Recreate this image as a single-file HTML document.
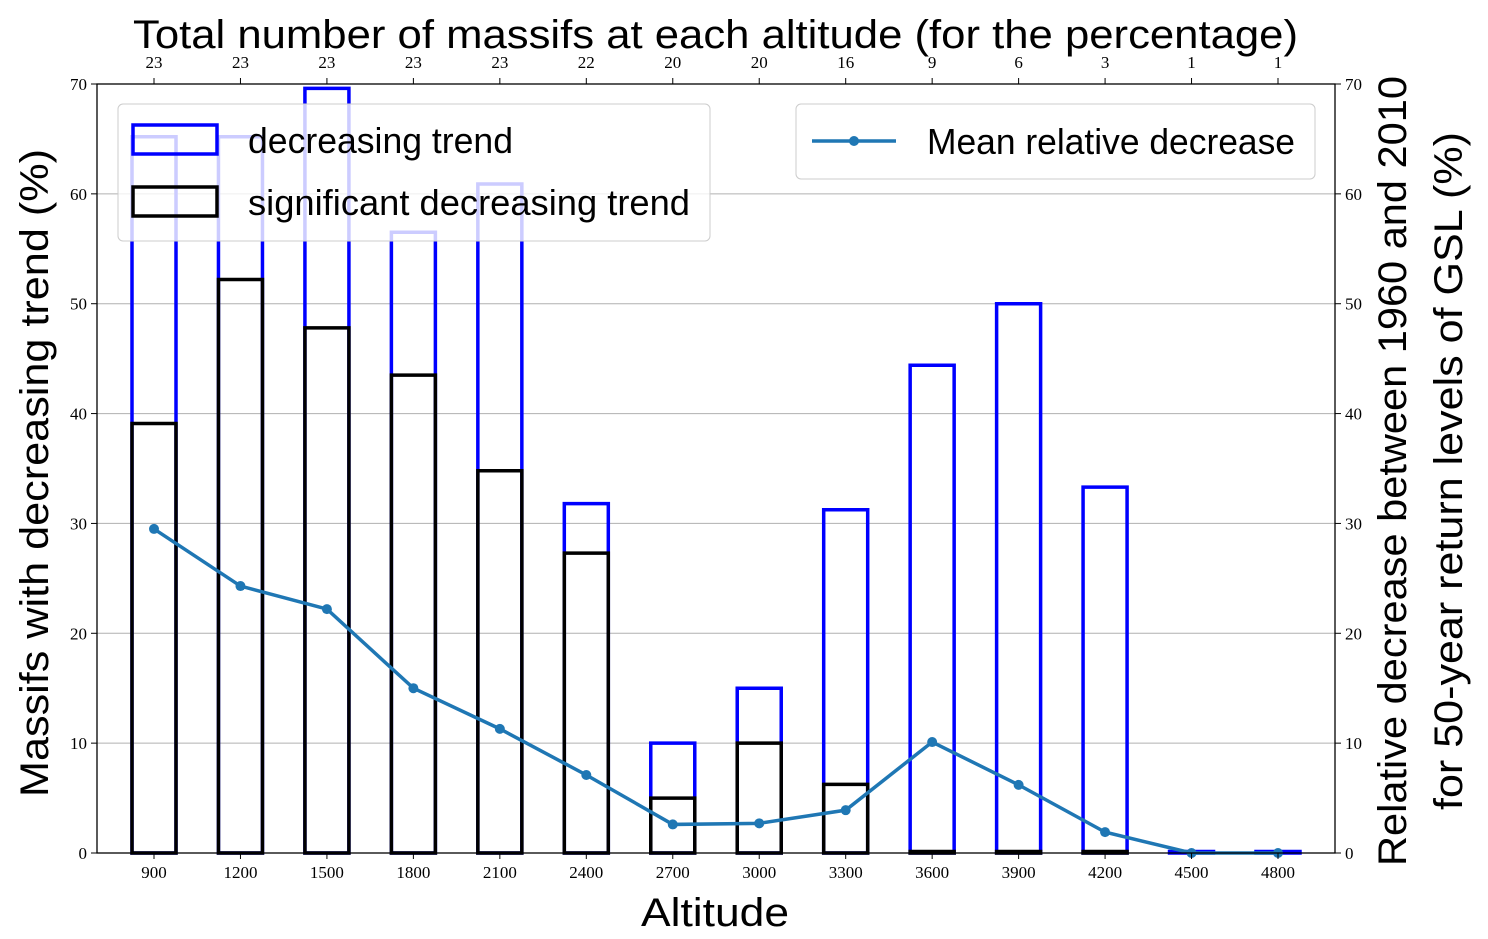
<!DOCTYPE html>
<html><head><meta charset="utf-8"><style>
body{margin:0;background:#fff;}
svg{display:block;}
text{font-family:"Liberation Sans","DejaVu Sans",sans-serif;}
.tk{font-family:"Liberation Serif",serif;font-size:17px;}
</style></head><body>
<svg id="chart" width="1488" height="939" xmlns="http://www.w3.org/2000/svg">
<g id="grid"></g>
<g id="bars"></g>
<g id="line"></g>
<g id="axes"></g>
<text x="133" y="48" textLength="1165" lengthAdjust="spacingAndGlyphs" font-size="40">Total number of massifs at each altitude (for the percentage)</text>
<text x="641" y="926" textLength="148" lengthAdjust="spacingAndGlyphs" font-size="40">Altitude</text>
<text transform="translate(48,797) rotate(-90)" textLength="648" lengthAdjust="spacingAndGlyphs" font-size="40">Massifs with decreasing trend (%)</text>
<text transform="translate(1406,866) rotate(-90)" textLength="790" lengthAdjust="spacingAndGlyphs" font-size="40">Relative decrease between 1960 and 2010</text>
<text transform="translate(1462,810) rotate(-90)" textLength="678" lengthAdjust="spacingAndGlyphs" font-size="40">for 50-year return levels of GSL (%)</text>
<g>
<rect x="118" y="104" width="592" height="137" rx="5" fill="#fff" fill-opacity="0.8" stroke="#ccc"/>
<rect x="133" y="125" width="84" height="29" fill="none" stroke="#0000ff" stroke-width="3.5"/>
<text x="248" y="153" textLength="265" lengthAdjust="spacingAndGlyphs" font-size="36">decreasing trend</text>
<rect x="133" y="187" width="84" height="29" fill="none" stroke="#000" stroke-width="3.5"/>
<text x="248" y="215" textLength="442" lengthAdjust="spacingAndGlyphs" font-size="36">significant decreasing trend</text>
</g>
<g>
<rect x="796" y="104" width="519" height="75" rx="5" fill="#fff" fill-opacity="0.8" stroke="#ccc"/>
<line x1="812" y1="141" x2="896" y2="141" stroke="#1f77b4" stroke-width="3.5"/>
<circle cx="854" cy="141" r="5" fill="#1f77b4"/>
<text x="927" y="154" textLength="368" lengthAdjust="spacingAndGlyphs" font-size="36">Mean relative decrease</text>
</g>
</svg>
<script>
const categories=[900,1200,1500,1800,2100,2400,2700,3000,3300,3600,3900,4200,4500,4800];
const totals=[23,23,23,23,23,22,20,20,16,9,6,3,1,1];
const decreasing=[65.2,65.2,69.6,56.5,60.9,31.8,10,15,31.25,44.4,50,33.3,0,0];
const significant=[39.1,52.2,47.8,43.5,34.8,27.3,5,10,6.25,0,0,0,0,0];
const meanDecrease=[29.5,24.3,22.2,15.0,11.3,7.1,2.6,2.7,3.9,10.1,6.2,1.9,0,0];
const yTicks=[0,10,20,30,40,50,60,70];
const L=97,R=1335,T=84,B=853;
const NS='http://www.w3.org/2000/svg';
const x=i=>154+i*(1278-154)/(categories.length-1);
const y=v=>B-(v/70)*(B-T);
const bw=44;
function mk(t,a,p){const e=document.createElementNS(NS,t);for(const k in a)e.setAttribute(k,a[k]);document.getElementById(p).appendChild(e);return e;}
function barPath(i,v){const x0=x(i)-bw/2,x1=x(i)+bw/2,yt=Math.min(y(v),B-1.5);return 'M'+x0+','+B+'L'+x0+','+yt+'L'+x1+','+yt+'L'+x1+','+B+'Z';}
yTicks.forEach(v=>{if(v>0&&v<70){const g=mk('line',{x1:L,x2:R,y1:y(v),y2:y(v),stroke:'#b0b0b0','stroke-width':1},'grid');}});
categories.forEach((c,i)=>{
 const b=mk('path',{d:barPath(i,decreasing[i]),fill:'none',stroke:'#0000ff','stroke-width':3.5},'bars');
 
 if(significant[i]>0||decreasing[i]>0){
 const s=mk('path',{d:barPath(i,significant[i]),fill:'none',stroke:'#000','stroke-width':3.5},'bars');
 }
});
const pl=mk('polyline',{points:meanDecrease.map((v,i)=>x(i)+','+y(v)).join(' '),fill:'none',stroke:'#1f77b4','stroke-width':3.5},'line');

meanDecrease.forEach((v,i)=>{const c=mk('circle',{cx:x(i),cy:y(v),r:5,fill:'#1f77b4'},'line');});
const fr=mk('rect',{x:L,y:T,width:R-L,height:B-T,fill:'none',stroke:'#000','stroke-width':1.3},'axes');

yTicks.forEach(v=>{
 mk('line',{x1:L-6,x2:L,y1:y(v),y2:y(v),stroke:'#000'},'axes');
 mk('line',{x1:R,x2:R+6,y1:y(v),y2:y(v),stroke:'#000'},'axes');
 const a=mk('text',{x:L-10,y:y(v)+6,'text-anchor':'end',class:'tk'},'axes');a.textContent=v;
 
 const b=mk('text',{x:R+10,y:y(v)+6,class:'tk'},'axes');b.textContent=v;
 
});
categories.forEach((c,i)=>{
 mk('line',{x1:x(i),x2:x(i),y1:B,y2:B+6,stroke:'#000'},'axes');
 mk('line',{x1:x(i),x2:x(i),y1:T-6,y2:T,stroke:'#000'},'axes');
 const t=mk('text',{x:x(i),y:B+25,'text-anchor':'middle',class:'tk'},'axes');t.textContent=c;
 
 const u=mk('text',{x:x(i),y:T-16,'text-anchor':'middle',class:'tk'},'axes');u.textContent=totals[i];
 
});
</script>
</body></html>
